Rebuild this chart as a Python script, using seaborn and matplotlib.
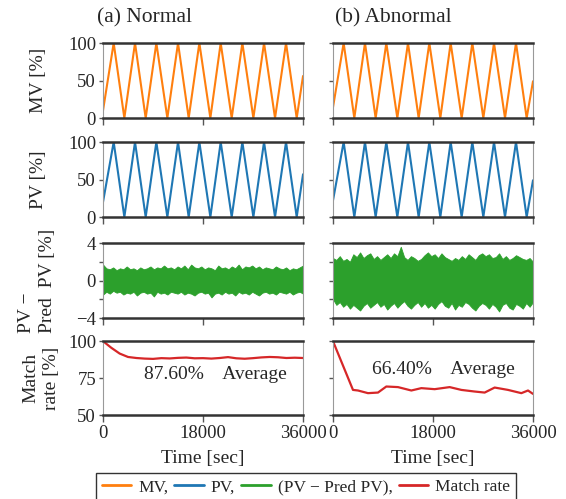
import numpy as np
import seaborn as sns
import matplotlib.pyplot as plt

# triangle-wave vertices (time in sec, value in %)
wave_t = [0, 1920, 3840, 5760, 7680, 9600, 11580, 13500, 15420, 17340,
          19320, 21180, 23160, 25080, 27060, 28980, 30960, 32940, 34860, 36000]
mv_normal = [10, 100, 0, 100, 0, 100, 0, 100, 0, 100, 0, 100, 0, 100, 0, 100, 0, 100, 0, 56]
mv_abnormal = [14, 100, 0, 100, 0, 100, 0, 100, 0, 100, 0, 100, 0, 100, 0, 100, 0, 100, 0, 49]
pv_normal = [20, 100, 0, 100, 0, 100, 0, 100, 0, 100, 0, 100, 0, 100, 0, 100, 0, 100, 0, 57]
pv_abnormal = [22, 100, 0, 100, 0, 100, 0, 100, 0, 100, 0, 100, 0, 100, 0, 100, 0, 100, 0, 49]

# envelope of the (PV - Pred PV) band
err_normal_hi = [1.7, 1.3, 1.2, 1.4, 1.1, 1.3, 1.2, 1.5, 1.2, 1.3, 1.1, 1.4, 1.2, 1.3, 1.5,
                 1.2, 1.4, 1.3, 1.6, 1.3, 1.4, 1.2, 1.5, 1.3, 1.6, 1.2, 1.7, 1.4, 1.3, 1.5,
                 1.2, 1.4, 1.3, 1.1, 1.6, 1.3, 1.4, 1.2, 1.5, 1.3, 1.7, 1.2, 1.5, 1.4, 1.6,
                 1.3, 1.5, 1.2, 1.4, 1.3, 1.2, 1.5, 1.3, 1.2, 1.4, 1.1, 1.3, 1.2, 1.4, 1.6]
err_normal_lo = [-1.5, -1.2, -1.4, -1.1, -1.3, -1.2, -1.5, -1.3, -1.4, -1.2, -1.6, -1.3, -1.2, -1.4, -1.3,
                 -1.7, -1.2, -1.4, -1.3, -1.5, -1.2, -1.3, -1.4, -1.2, -1.5, -1.3, -1.4, -1.6, -1.3, -1.2,
                 -1.4, -1.3, -1.8, -1.4, -1.3, -1.5, -1.2, -1.4, -1.3, -1.6, -1.2, -1.4, -1.3, -1.5, -1.2,
                 -1.4, -1.6, -1.3, -1.2, -1.4, -1.3, -1.5, -1.2, -1.3, -1.4, -1.2, -1.5, -1.3, -1.2, -1.4]
err_abn_hi = [2.4, 2.2, 2.6, 2.1, 2.3, 2.0, 2.8, 2.5, 3.0, 2.4, 2.7, 2.9, 2.3, 2.6, 2.2,
              2.5, 2.8, 2.4, 2.9, 2.6, 3.6, 2.5, 2.2, 2.6, 2.4, 2.1, 2.3, 2.7, 3.0, 2.6,
              2.8, 2.4, 2.9, 2.5, 2.3, 2.1, 2.4, 2.2, 2.6, 2.3, 2.8, 2.5, 2.2, 2.7, 2.9,
              2.6, 2.8, 2.4, 2.5, 2.9, 2.3, 2.6, 2.2, 2.4, 2.7, 2.5, 2.3, 2.2, 2.4, 2.0]
err_abn_lo = [-2.0, -2.6, -2.3, -2.8, -2.5, -3.0, -2.6, -2.9, -3.2, -2.7, -2.4, -2.9, -2.6, -2.3, -2.8,
              -2.5, -3.1, -2.7, -2.4, -2.9, -2.5, -2.2, -2.7, -3.0, -2.6, -2.3, -2.8, -2.4, -2.9, -2.6,
              -3.0, -2.5, -2.2, -2.7, -2.9, -2.4, -3.1, -2.6, -2.8, -2.3, -2.5, -2.9, -3.2, -2.7, -2.4,
              -2.6, -3.0, -2.5, -2.8, -3.3, -2.6, -2.4, -2.9, -3.1, -2.5, -2.7, -3.0, -2.4, -2.8, -2.3]

# match rate curves
rate_normal_t = [0, 1500, 3000, 4500, 6000, 7500, 9000, 10500, 12000, 13500, 15000, 16500, 18000,
                 19500, 21000, 22500, 24000, 25500, 27000, 28500, 30000, 31500, 33000, 34500, 36000]
rate_normal = [100, 95.5, 91.6, 89.3, 88.6, 88.2, 88.0, 88.5, 88.3, 88.7, 88.9, 88.4, 88.5,
               88.2, 88.6, 89.2, 88.4, 88.1, 88.5, 89.0, 89.3, 89.1, 88.6, 88.8, 88.6]
rate_abn_t = [0, 3600, 4500, 6300, 8100, 9600, 11700, 14100, 15900, 18300, 21000, 23100,
              25500, 27300, 29100, 31500, 33900, 35100, 36000]
rate_abn = [100, 67.0, 66.6, 64.8, 65.2, 69.3, 68.9, 66.6, 68.2, 67.5, 68.9, 67.0,
            65.9, 65.2, 68.6, 67.0, 64.8, 66.6, 64.3]

avg_normal = "87.60%"
avg_abnormal = "66.40%"

sns.set_theme(style="white")
plt.rcParams['font.family'] = ['Liberation Serif', 'DejaVu Serif']

fig = plt.figure(figsize=(5.66, 4.99), dpi=100)
lefts = [0.182, 0.5883]
bottoms = [0.7635, 0.5651, 0.3627, 0.1683]
heights = [0.1503, 0.1503, 0.1503, 0.148]
axes = [[fig.add_axes([l, b, 0.3534, h]) for l in lefts] for b, h in zip(bottoms, heights)]

orange, blue, green, red = '#ff7f0e', '#1f77b4', '#2ca02c', '#d62728'
err_t = np.linspace(0, 36000, len(err_normal_hi))

for col in range(2):
    mv = [mv_normal, mv_abnormal][col]
    pv = [pv_normal, pv_abnormal][col]
    hi = [err_normal_hi, err_abn_hi][col]
    lo = [err_normal_lo, err_abn_lo][col]
    rt = [rate_normal_t, rate_abn_t][col]
    rv = [rate_normal, rate_abn][col]

    sns.lineplot(x=wave_t, y=mv, ax=axes[0][col], color=orange, lw=1.5)
    sns.lineplot(x=wave_t, y=pv, ax=axes[1][col], color=blue, lw=1.5)
    axes[2][col].fill_between(err_t, lo, hi, color=green, lw=0.6, edgecolor=green)
    sns.lineplot(x=rt, y=rv, ax=axes[3][col], color=red, lw=1.6)

    axes[0][col].set_ylim(0, 100)
    axes[1][col].set_ylim(0, 100)
    axes[2][col].set_ylim(-4, 4)
    axes[3][col].set_ylim(50, 100)
    axes[0][col].set_yticks([0, 50, 100])
    axes[1][col].set_yticks([0, 50, 100])
    axes[2][col].set_yticks([-4, -2, 0, 2, 4])
    axes[3][col].set_yticks([50, 75, 100])

    for row in range(4):
        ax = axes[row][col]
        ax.set_xlim(0, 36000)
        ax.set_xticks([0, 18000, 36000])
        for s in ['top', 'bottom']:
            ax.spines[s].set_linewidth(1.8)
            ax.spines[s].set_color('#333333')
        for s in ['left', 'right']:
            ax.spines[s].set_linewidth(0.8)
            ax.spines[s].set_color('#999999')
        ax.tick_params(axis='x', bottom=True, length=5, width=1, color='#555555',
                       labelsize=13.5, pad=2)
        ax.tick_params(axis='y', left=True, length=3, width=1, color='#555555',
                       labelsize=13.5, pad=2)
        ax.set_xlabel('')
        ax.set_ylabel('')
        if row < 3:
            ax.set_xticklabels([])
        if col == 1:
            ax.set_yticklabels([])

    axes[3][col].set_xticklabels(['0', '18000', '36000'])
    axes[3][col].set_xlabel('Time [sec]', fontsize=14, labelpad=6)

axes[2][0].set_yticklabels(['\u22124', '', '0', '', '4'])

ylabels = ['MV [%]', 'PV [%]', 'PV \u2212\nPred  PV [%]', 'Match\nrate [%]']
ymult = ['center', 'center', 'left', 'center']
ylab_x = [-0.325, -0.325, -0.33, -0.31]
for row in range(4):
    ax = axes[row][0]
    ax.set_ylabel(ylabels[row], fontsize=14, va='center', ma=ymult[row], linespacing=1.3)
    ax.yaxis.set_label_coords(ylab_x[row], 0.5)

axes[3][0].text(7380, 77.3, avg_normal + '    Average', fontsize=14, va='center')
axes[3][1].text(6970, 80.7, avg_abnormal + '    Average', fontsize=14, va='center')

fig.text(97 / 566, 0.964, '(a) Normal', fontsize=15.5, va='center', ha='left')
fig.text(335 / 566, 0.964, '(b) Abnormal', fontsize=15.5, va='center', ha='left')

handles = [plt.Line2D([], [], color=c, lw=2) for c in [orange, blue, green, red]]
labels = ['MV,', 'PV,', '(PV \u2212 Pred PV),', 'Match rate']
leg = fig.legend(handles, labels, loc='upper center', bbox_to_anchor=(306 / 566, 1 - 473 / 499),
                 ncol=4, fontsize=12.5, frameon=True, fancybox=False, edgecolor='black',
                 handlelength=1.7, handletextpad=0.4, columnspacing=0.35, borderpad=0.35,
                 borderaxespad=0)
leg.get_frame().set_linewidth(1.0)

plt.savefig('out.png', dpi=100)
